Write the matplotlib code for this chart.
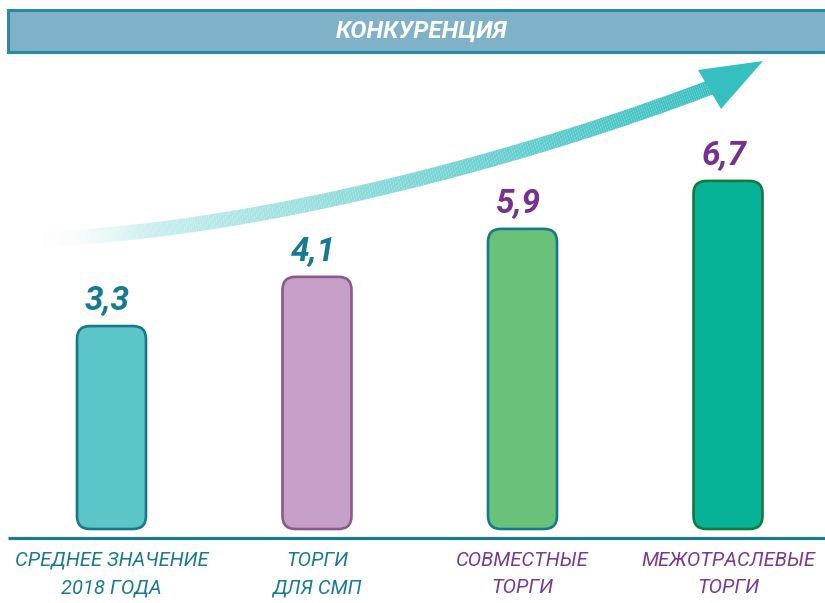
import numpy as np
import matplotlib
matplotlib.use("Agg")
import matplotlib.pyplot as plt
from matplotlib.patches import FancyBboxPatch, Rectangle, Polygon
from matplotlib.collections import LineCollection
from matplotlib.colors import to_rgba

# ---- data ----
categories = ["СРЕДНЕЕ ЗНАЧЕНИЕ\n2018 ГОДА", "ТОРГИ\nДЛЯ СМП",
              "СОВМЕСТНЫЕ\nТОРГИ", "МЕЖОТРАСЛЕВЫЕ\nТОРГИ"]
values = [3.3, 4.1, 5.9, 6.7]
value_labels = ["3,3", "4,1", "5,9", "6,7"]
# heights as drawn in the picture (bars are not to scale)
bar_heights = [3.3, 4.1, 4.88, 5.66]
title = "КОНКУРЕНЦИЯ"

fill_colors = ["#5bc5c8", "#c59fc8", "#6ac17a", "#07b396"]
edge_colors = ["#17788c", "#8a5a88", "#17788c", "#107a40"]
text_colors = ["#167a93", "#167a93", "#76308f", "#76308f"]
cat_colors = ["#1a7a94", "#1a7a94", "#7b3a96", "#7b3a96"]

FONT = ["Roboto", "DejaVu Sans"]
plt.rcParams["font.family"] = FONT

W, H = 825, 603
fig = plt.figure(figsize=(W / 100, H / 100), dpi=100)
fig.patch.set_facecolor("white")

def fx(x):
    return x / W

def fy(y):
    return 1 - y / H

# banner
fig.patches.append(Rectangle((fx(8), fy(52)), fx(830) - fx(8), fy(10) - fy(52),
                             transform=fig.transFigure, facecolor="#7fb1c8",
                             edgecolor="#2a8aa5", linewidth=2.2, zorder=1))
fig.text(fx(422), fy(31), title, color="white", fontsize=17.5, fontweight="bold",
         fontstyle="italic", ha="center", va="center")

# main axes covering figure
ax = fig.add_axes([0, 0, 1, 1])
ax.set_facecolor("none")
xs_px = 205.5
x0_px = 111.5
ys_px = 61.5
y0_px = 529
ax.set_xlim(-x0_px / xs_px, (W - x0_px) / xs_px)
ax.set_ylim((y0_px - H) / ys_px, y0_px / ys_px)
ax.axis("off")

# gradient arrow (decoration)
P0 = np.array([40, 239]); P1 = np.array([250, 232])
P2 = np.array([520, 160]); P3 = np.array([714, 86])
t = np.linspace(0, 1, 300)[:, None]
curve = (1 - t) ** 3 * P0 + 3 * (1 - t) ** 2 * t * P1 + 3 * (1 - t) * t ** 2 * P2 + t ** 3 * P3
cx = (curve[:, 0] - x0_px) / xs_px
cy = (y0_px - curve[:, 1]) / ys_px
pts = np.column_stack([cx, cy]).reshape(-1, 1, 2)
segs = np.concatenate([pts[:-1], pts[1:]], axis=1)
end_c = np.array(to_rgba("#36bfc0"))
white = np.array([1, 1, 1, 1.0])
tt = np.linspace(0, 1, len(segs))
cols = []
for v in tt:
    w = v ** 0.75
    c = white * (1 - w) + end_c * w
    c[3] = min(1, v * 6)
    cols.append(c)
lc = LineCollection(segs, colors=cols, linewidths=10.8, capstyle="butt", zorder=2)
ax.add_collection(lc)
head_px = np.array([[763, 61], [698, 70], [721, 109]])
head = np.column_stack([(head_px[:, 0] - x0_px) / xs_px, (y0_px - head_px[:, 1]) / ys_px])
ax.add_patch(Polygon(head, closed=True, facecolor="#36bfc0", edgecolor="none", zorder=3))

# bars
bw = 69 / xs_px
aspect = xs_px / ys_px
for i, (h, fc, ec) in enumerate(zip(bar_heights, fill_colors, edge_colors)):
    p = FancyBboxPatch((i - bw / 2, 0), bw, h,
                       boxstyle="round,pad=0,rounding_size=%f" % (13 / xs_px),
                       mutation_aspect=aspect, facecolor=fc, edgecolor=ec,
                       linewidth=1.9, zorder=4)
    ax.add_patch(p)
    ax.text(i - 0.02, h + 0.28, value_labels[i], color=text_colors[i], fontsize=24,
            fontweight="bold", fontstyle="italic", ha="center", va="baseline", zorder=5)
    ax.text(i, (y0_px - 574) / ys_px, categories[i], color=cat_colors[i], fontsize=14.5,
            fontstyle="italic", ha="center", va="center", linespacing=1.55, zorder=5)

# baseline
ax.plot([(8 - x0_px) / xs_px, (W - x0_px) / xs_px], [(y0_px - 537.5) / ys_px] * 2,
        color="#1a7a92", linewidth=2.3, solid_capstyle="butt", zorder=3, clip_on=False)

fig.savefig("out.png", dpi=100)
